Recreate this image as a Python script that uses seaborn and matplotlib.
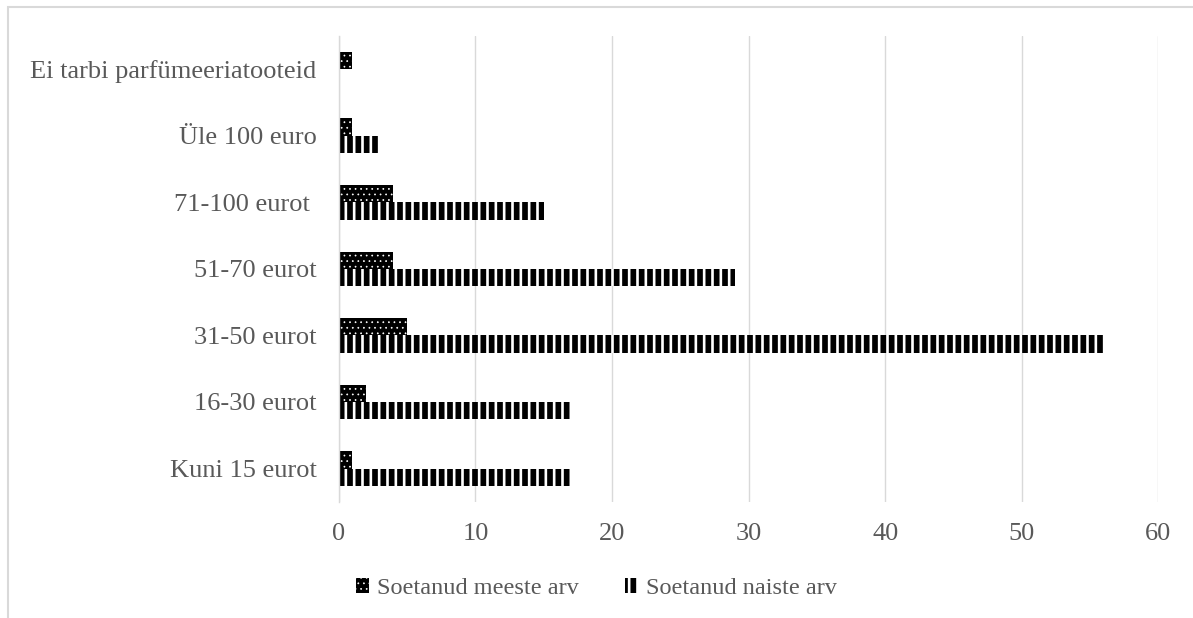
import matplotlib
matplotlib.use("Agg")
import matplotlib.pyplot as plt
from matplotlib.patches import Rectangle
import seaborn as sns
import pandas as pd

categories = [
    "Ei tarbi parfümeeriatooteid",
    "Üle 100 euro",
    "71-100 eurot ",
    "51-70 eurot",
    "31-50 eurot",
    "16-30 eurot",
    "Kuni 15 eurot",
]
men = [1, 1, 4, 4, 5, 2, 1]
women = [0, 3, 15, 29, 56, 17, 17]
series_names = ["Soetanud meeste arv", "Soetanud naiste arv"]
x_ticks = [0, 10, 20, 30, 40, 50, 60]

df = pd.DataFrame({
    "kategooria": categories * 2,
    "arv": men + women,
    "sari": [series_names[0]] * len(categories) + [series_names[1]] * len(categories),
})

sns.set_theme(style="white")
plt.rcParams["font.family"] = ["Liberation Serif", "DejaVu Serif"]
TEXT = "#595959"
GRID = "#d9d9d9"
FS = 19
LEG_FS = 17.5

fig = plt.figure(figsize=(11.93, 6.18), dpi=100)
ax = fig.add_axes([0.284, 0.188, 0.687, 0.754])

sns.barplot(data=df, y="kategooria", x="arv", hue="sari", order=categories,
            hue_order=series_names, orient="h", width=0.52, dodge=True,
            ax=ax, legend=True)

# patterns: white dots on black for men, black vertical stripes for women
styles = {
    series_names[0]: dict(face="black", hatch_col="white", hatch="...", hlw=0.5),
    series_names[1]: dict(face="black", hatch_col="white", hatch="||", hlw=1.9),
}

def style_patch(p, st):
    p.set_facecolor(st["face"])
    p.set_edgecolor(st["hatch_col"])
    p.set_linewidth(0)
    p.set_hatch(st["hatch"])
    if hasattr(p, "set_hatch_linewidth"):
        p.set_hatch_linewidth(st["hlw"])
    else:
        p._hatch_linewidth = st["hlw"]

for cont, name in zip(ax.containers, series_names):
    for p in cont.patches:
        style_patch(p, styles[name])

ax.set_xlim(0, 60)
ax.set_xticks(x_ticks)
ax.set_xticklabels([str(t) for t in x_ticks])
ax.set_xlabel("")
ax.set_ylabel("")
ax.grid(axis="x", color=GRID, linewidth=1.0)
ax.grid(axis="y", visible=False)
ax.set_axisbelow(True)
for s in ["top", "right", "bottom"]:
    ax.spines[s].set_visible(False)
ax.spines["left"].set_color(GRID)
ax.spines["left"].set_linewidth(1.0)
ax.tick_params(axis="both", length=0, labelsize=FS, labelcolor=TEXT)
ax.tick_params(axis="y", pad=16)
ax.tick_params(axis="x", pad=15)

leg = ax.get_legend()
handles = leg.legend_handles
leg.remove()
flegend = fig.legend(handles, series_names, loc="center",
                     bbox_to_anchor=(0.50, 0.048), ncol=2, frameon=False,
                     fontsize=LEG_FS, labelcolor=TEXT,
                     handlelength=0.5, handleheight=0.6, handletextpad=0.35,
                     columnspacing=1.9)
for h, name in zip(flegend.legend_handles, series_names):
    style_patch(h, styles[name])

# outer chart frame (only top and left edges fall inside the image)
fig.add_artist(Rectangle((8 / 1193, -0.05), 1.1, 1.05 - 7 / 618,
                         transform=fig.transFigure, fill=False,
                         edgecolor=GRID, linewidth=1.5))

fig.savefig("out.png", dpi=100)
